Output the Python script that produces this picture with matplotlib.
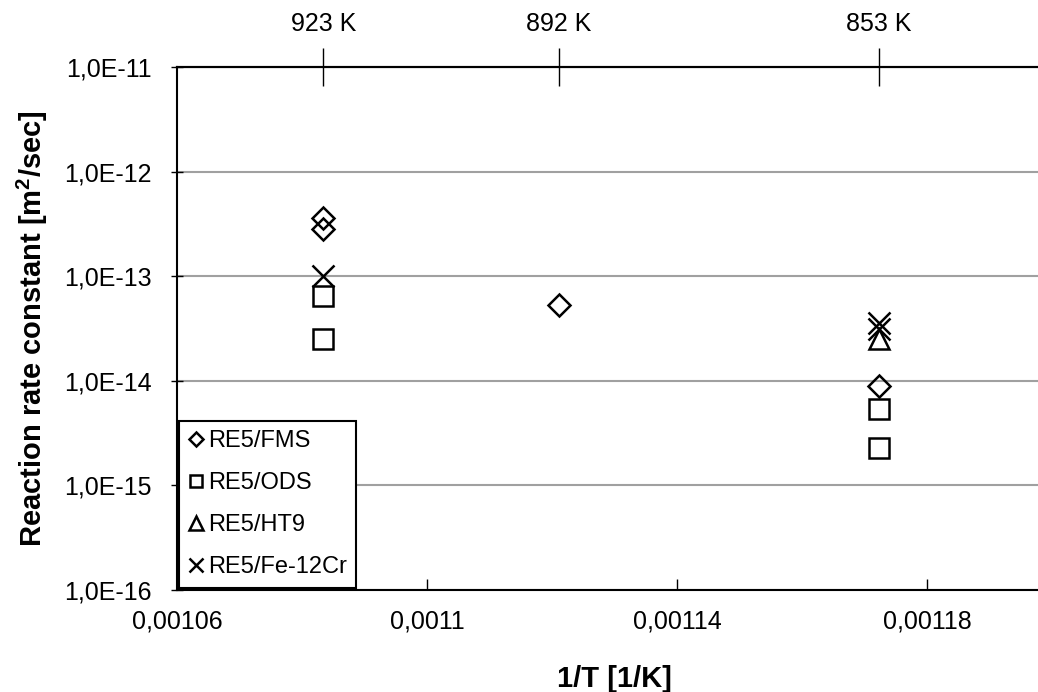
import matplotlib
matplotlib.use("Agg")
import matplotlib.pyplot as plt
import matplotlib.ticker as ticker
import numpy as np

plt.rcParams['font.family'] = ['Liberation Sans', 'DejaVu Sans']
plt.rcParams['mathtext.fontset'] = 'custom'
plt.rcParams['mathtext.rm'] = 'Liberation Sans'
plt.rcParams['mathtext.bf'] = 'Liberation Sans:bold'

# temperatures (K) and series values
temps = [923, 892, 853]
temp_labels = ["923 K", "892 K", "853 K"]

fms_T = [923, 923, 892, 853]
fms_k = [3.6e-13, 2.8e-13, 5.3e-14, 8.9e-15]

ods_T = [923, 923, 853, 853]
ods_k = [6.5e-14, 2.5e-14, 5.4e-15, 2.3e-15]

ht9_T = [853]
ht9_k = [2.5e-14]

fecr_T = [923, 853, 853]
fecr_k = [1.0e-13, 3.6e-14, 3.1e-14]

x_ticks = [0.00106, 0.0011, 0.00114, 0.00118]
x_tick_labels = ["0,00106", "0,0011", "0,00114", "0,00118"]
y_ticks = [1e-16, 1e-15, 1e-14, 1e-13, 1e-12, 1e-11]
y_tick_labels = ["1,0E-16", "1,0E-15", "1,0E-14", "1,0E-13", "1,0E-12", "1,0E-11"]

fig = plt.figure(figsize=(10.38, 6.92), dpi=100)
ax = fig.add_axes([177 / 1038, 102 / 692, (1052 - 177) / 1038, (590 - 67) / 692])

series = [
    ("RE5/FMS", fms_T, fms_k, 'D', 11),
    ("RE5/ODS", ods_T, ods_k, 's', 14),
    ("RE5/HT9", ht9_T, ht9_k, '^', 15),
    ("RE5/Fe-12Cr", fecr_T, fecr_k, 'x', 16),
]
for label, T, k, m, ms in series:
    inv_t = 1.0 / np.array(T, dtype=float)
    ax.plot(inv_t, k, linestyle='none', marker=m, markersize=ms,
            markerfacecolor='none', markeredgecolor='black',
            markeredgewidth=1.8, color='black', label=label)

ax.set_yscale('log')
ax.set_ylim(1e-16, 1e-11)
ax.set_xlim(0.00106, 0.0012)
ax.yaxis.set_major_locator(ticker.FixedLocator(y_ticks))
ax.yaxis.set_major_formatter(ticker.FixedFormatter(y_tick_labels))
ax.yaxis.set_minor_locator(ticker.NullLocator())
ax.set_xticks(x_ticks)
ax.set_xticklabels(x_tick_labels)
ax.grid(True, axis='y', color='#a0a0a0', linewidth=1.5)
ax.set_axisbelow(True)

ax.spines['right'].set_visible(False)
for side in ['left', 'bottom', 'top']:
    ax.spines[side].set_linewidth(1.5)
    ax.spines[side].set_color('black')

ax.tick_params(axis='x', direction='in', length=8, width=1, labelsize=18, pad=14)
ax.tick_params(axis='y', direction='inout', length=8, width=1, labelsize=18, pad=14)

ax.set_xlabel("1/T [1/K]", fontsize=21, fontweight='bold', labelpad=23)
ax.set_ylabel(r"Reaction rate constant [m$^{\mathbf{2}}$/sec]", fontsize=21,
              fontweight='bold', labelpad=10)

# top axis with temperatures
ax2 = ax.twiny()
ax2.set_xlim(ax.get_xlim())
ax2.set_xticks([1.0 / t for t in temps])
ax2.set_xticklabels(temp_labels)
ax2.tick_params(axis='x', direction='inout', length=27, width=1, labelsize=18, pad=9)
for side in ['right', 'left', 'bottom']:
    ax2.spines[side].set_visible(False)
ax2.spines['top'].set_linewidth(1.5)

leg = ax.legend(loc='lower left', fontsize=17, markerscale=0.65, handlelength=0.6,
                handletextpad=0.2, labelspacing=0.85, borderpad=0.4,
                borderaxespad=0.1, fancybox=False, framealpha=1)
leg.get_frame().set_edgecolor('black')
leg.get_frame().set_linewidth(1.5)

fig.savefig("out.png", dpi=100)
